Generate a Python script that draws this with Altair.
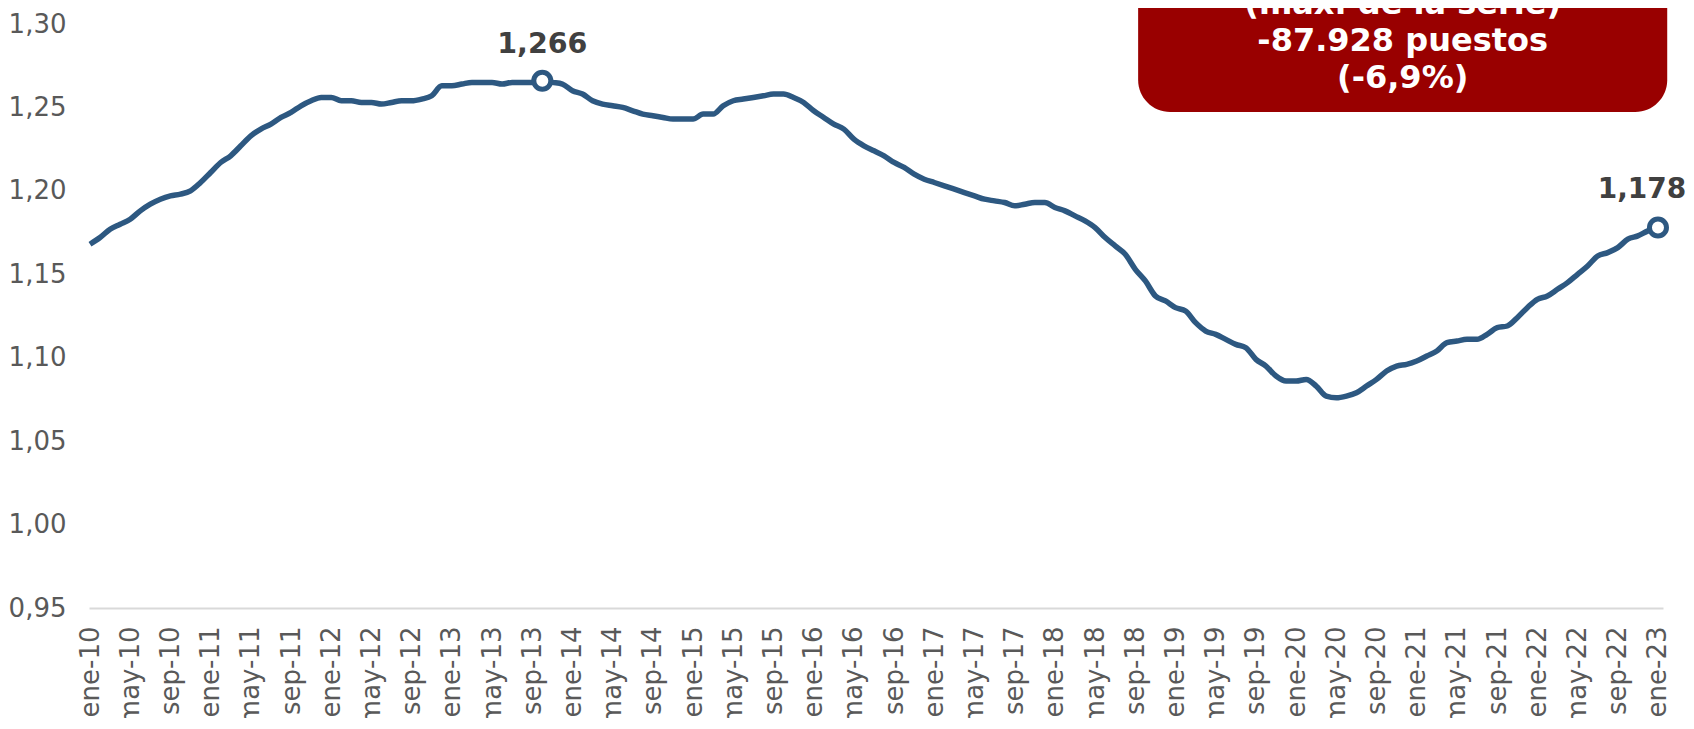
import altair as alt
import pandas as pd

MESES = ["ene", "feb", "mar", "abr", "may", "jun", "jul", "ago", "sep", "oct", "nov", "dic"]
periodos = [f"{MESES[m]}-{y:02d}" for y in range(10, 24) for m in range(12)][:157]

valores = [
    1.168, 1.172, 1.177, 1.180, 1.183, 1.188, 1.192, 1.195, 1.197, 1.198, 1.200, 1.205,
    1.211, 1.217, 1.221, 1.227, 1.233, 1.237, 1.240, 1.244, 1.247, 1.251, 1.254, 1.256,
    1.256, 1.254, 1.254, 1.253, 1.253, 1.252, 1.253, 1.254, 1.254, 1.255, 1.257, 1.263,
    1.263, 1.264, 1.265, 1.265, 1.265, 1.264, 1.265, 1.265, 1.265, 1.266, 1.265, 1.264,
    1.260, 1.258, 1.254, 1.252, 1.251, 1.250, 1.248, 1.246, 1.245, 1.244, 1.243, 1.243,
    1.243, 1.246, 1.246, 1.251, 1.254, 1.255, 1.256, 1.257, 1.258, 1.258, 1.256, 1.253,
    1.248, 1.244, 1.240, 1.237, 1.231, 1.227, 1.224, 1.221, 1.217, 1.214, 1.210, 1.207,
    1.205, 1.203, 1.201, 1.199, 1.197, 1.195, 1.194, 1.193, 1.191, 1.192, 1.193, 1.193,
    1.190, 1.188, 1.185, 1.182, 1.178, 1.172, 1.167, 1.162, 1.153, 1.146, 1.137, 1.134,
    1.130, 1.128, 1.121, 1.116, 1.114, 1.111, 1.108, 1.106, 1.099, 1.095, 1.089, 1.086,
    1.086, 1.087, 1.083, 1.077, 1.076, 1.077, 1.079, 1.083, 1.087, 1.092, 1.095, 1.096,
    1.098, 1.101, 1.104, 1.109, 1.110, 1.111, 1.111, 1.114, 1.118, 1.119, 1.124, 1.130,
    1.135, 1.137, 1.141, 1.145, 1.150, 1.155, 1.161, 1.163, 1.166, 1.171, 1.173, 1.176,
    1.178,
]

etiquetas_x = periodos[::4]
ticks_x = list(range(0, 157, 4))
ticks_y = [0.95, 1.00, 1.05, 1.10, 1.15, 1.20, 1.25, 1.30]

idx_max = 45
idx_ult = 156
texto_max = "1,266"
texto_ult = "1,178"

caja_lineas = ["(máx. de la serie)", "-87.928 puestos", "(-6,9%)"]

COLOR_LINEA = "#2D5881"
COLOR_CAJA = "#990000"
COLOR_TXT = "#595959"
FUENTE = "DejaVu Sans"

df = pd.DataFrame({"idx": list(range(len(valores))), "periodo": periodos, "valor": valores})

label_expr = "[" + ",".join(f"'{l}'" for l in etiquetas_x) + "][round(datum.value/4)]"

x_enc = alt.X(
    "idx:Q",
    scale=alt.Scale(domain=[-0.1, 156.5], nice=False, zero=False),
    axis=alt.Axis(
        values=ticks_x, labelExpr=label_expr, labelAngle=270, labelFontSize=26,
        labelFont=FUENTE, labelColor=COLOR_TXT, labelPadding=18, ticks=False, tickSize=0,
        grid=False, domainColor="#D9D9D9", domainWidth=2, title=None, labelOverlap=False,
        labelBound=False, labelFlush=False,
    ),
)
y_enc = alt.Y(
    "valor:Q",
    scale=alt.Scale(domain=[0.95, 1.30], nice=False, zero=False),
    axis=alt.Axis(
        values=ticks_y, labelExpr="replace(format(datum.value, '.2f'), '.', ',')",
        labelFontSize=26, labelFont=FUENTE, labelColor=COLOR_TXT, labelPadding=23,
        ticks=False, tickSize=0, grid=False, domain=False, title=None,
    ),
)

linea = alt.Chart(df).mark_line(color=COLOR_LINEA, strokeWidth=5.5, interpolate="monotone").encode(
    x=x_enc, y=y_enc
)

df_puntos = df.iloc[[idx_max, idx_ult]]
puntos = alt.Chart(df_puntos).mark_point(
    shape="circle", filled=True, fill="white", stroke=COLOR_LINEA, strokeWidth=5, size=290, opacity=1
).encode(x="idx:Q", y="valor:Q")

df_max = pd.DataFrame({"idx": [idx_max], "valor": [valores[idx_max]], "t": [texto_max]})
df_ult = pd.DataFrame({"idx": [idx_ult], "valor": [valores[idx_ult]], "t": [texto_ult]})
txt_max = alt.Chart(df_max).mark_text(
    font=FUENTE, fontWeight="bold", fontSize=28.5, color="#404040", dy=-37, baseline="middle"
).encode(x="idx:Q", y="valor:Q", text="t:N")
txt_ult = alt.Chart(df_ult).mark_text(
    font=FUENTE, fontWeight="bold", fontSize=28, color="#404040", dy=-38, dx=-16, baseline="middle"
).encode(x="idx:Q", y="valor:Q", text="t:N")

caja_df = pd.DataFrame({"x0": [104.28], "x1": [156.92], "y0": [1.2473], "y1": [1.36]})
caja = alt.Chart(caja_df).mark_rect(color=COLOR_CAJA, cornerRadius=32).encode(
    x="x0:Q", x2="x1:Q", y="y0:Q", y2="y1:Q"
)
caja_txt_df = pd.DataFrame({"x": [130.6], "y": [1.3120]})
caja_txt = alt.Chart(caja_txt_df).mark_text(
    text=caja_lineas, font=FUENTE, fontWeight="bold", fontSize=32, color="white",
    lineHeight=37, align="center", baseline="middle",
).encode(x="x:Q", y="y:Q")

chart = alt.layer(linea, caja, caja_txt, puntos, txt_max, txt_ult).properties(
    width=1574, height=584,
    autosize=alt.AutoSizeParams(type="none"),
    padding={"left": 81, "top": 16, "right": 23, "bottom": 110},
    background="white",
).configure_view(stroke=None)

chart.save("out.html", embed_options={"renderer": "svg", "actions": False})
